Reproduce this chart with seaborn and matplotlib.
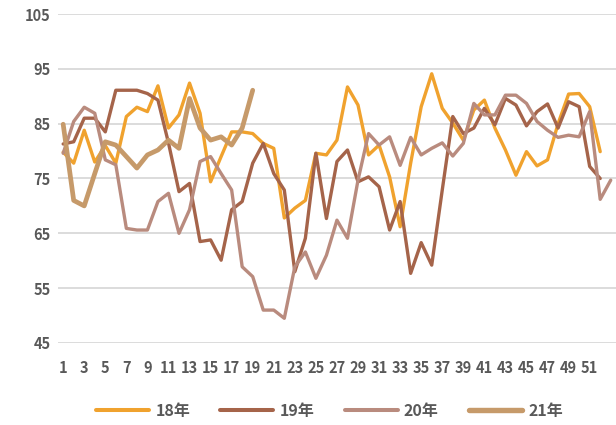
import matplotlib
matplotlib.use("Agg")
import matplotlib.pyplot as plt
import pandas as pd
import seaborn as sns

# weekly index values
y18 = [79.8, 77.8, 83.8, 78.0, 81.0, 77.8, 86.3, 88.0, 87.2, 91.9,
       84.2, 86.6, 92.4, 86.9, 74.4, 79.0, 83.5, 83.5, 83.2, 81.4,
       80.5, 67.8, 69.6, 71.0, 79.6, 79.3, 82.0, 91.7, 88.4, 79.3,
       81.1, 75.3, 66.2, 77.8, 88.1, 94.1, 87.8, 85.1, 82.0, 87.5,
       89.3, 84.2, 80.2, 75.6, 79.9, 77.3, 78.4, 85.0, 90.4, 90.5,
       88.1, 79.9]
y19 = [81.3, 81.7, 86.0, 86.0, 83.5, 91.1, 91.1, 91.1, 90.5, 89.3,
       81.5, 72.6, 74.1, 63.5, 63.8, 60.1, 69.3, 70.8, 77.8, 81.4,
       75.9, 72.9, 58.0, 64.1, 79.6, 67.7, 78.1, 80.2, 74.4, 75.3,
       73.5, 65.6, 70.8, 57.7, 63.3, 59.2, 72.9, 86.3, 83.2, 84.2,
       87.8, 84.8, 89.6, 88.4, 84.6, 87.2, 88.6, 84.2, 89.0, 88.1,
       77.2, 75.0]
y20 = [79.6, 85.4, 88.0, 86.9, 78.4, 77.5, 65.9, 65.6, 65.6, 70.8,
       72.3, 65.0, 69.3, 78.1, 79.0, 75.9, 72.9, 58.9, 57.1, 51.0,
       51.0, 49.5, 58.9, 61.6, 56.8, 61.0, 67.4, 64.1, 74.7, 83.2,
       81.1, 82.6, 77.4, 82.5, 79.3, 80.5, 81.5, 79.1, 81.4, 88.7,
       86.6, 86.6, 90.2, 90.2, 88.7, 85.4, 83.8, 82.5, 82.9, 82.6,
       87.2, 71.2, 74.7]
y21 = [84.9, 71.0, 70.0, 75.9, 81.7, 81.1, 79.0, 76.9, 79.3, 80.2,
       82.0, 80.5, 89.6, 84.2, 82.0, 82.6, 81.1, 84.2, 91.1]

series = ["18年", "19年", "20年", "21年"]
colors = ["#F0A22E", "#A5644A", "#B98B7E", "#C69A6A"]
widths = [2.4, 2.4, 2.4, 3.4]
yticks = [45, 55, 65, 75, 85, 95, 105]
xticks = list(range(1, 52, 2))

frames = []
for name, vals in zip(series, [y18, y19, y20, y21]):
    frames.append(pd.DataFrame({"week": range(1, len(vals) + 1), "value": vals, "year": name}))
df = pd.concat(frames, ignore_index=True)

sns.set_theme(style="white")
plt.rcParams["font.family"] = ["Liberation Sans Narrow", "Noto Sans CJK SC", "DejaVu Sans"]

fig = plt.figure(figsize=(6.16, 4.25), dpi=100)
ax = fig.add_axes([0.094, 0.193, 0.906, 0.774])

sns.lineplot(data=df, x="week", y="value", hue="year", palette=colors, ax=ax, legend=False)
for line, lw in zip(ax.get_lines(), widths):
    line.set_linewidth(lw)
    line.set_solid_joinstyle("round")
    line.set_solid_capstyle("round")

ax.set_xlim(0.5, 53.5)
ax.set_ylim(45, 105)
ax.set_yticks(yticks)
ax.set_xticks(xticks)
ax.set_xticklabels([str(t) for t in xticks])
ax.yaxis.grid(True, color="#D9D9D9", linewidth=1.3)
ax.set_axisbelow(True)
for s in ax.spines.values():
    s.set_visible(False)
ax.tick_params(axis="both", length=0, labelsize=10.5, labelcolor="#595959")
ax.tick_params(axis="y", pad=5)
ax.tick_params(axis="x", pad=12)
for lab in ax.get_xticklabels() + ax.get_yticklabels():
    lab.set_fontweight("bold")
ax.set_xlabel("")
ax.set_ylabel("")

handles = [plt.Line2D([], [], color=c, lw=lw + 0.5, solid_capstyle="round") for c, lw in zip(colors, widths)]
leg = fig.legend(handles, series, loc="center", bbox_to_anchor=(0.535, 0.033), ncol=4,
                 frameon=False, handlelength=3.3, columnspacing=1.9, handletextpad=0.4,
                 prop={"weight": "bold", "size": 11.5})
for t in leg.get_texts():
    t.set_color("#595959")

fig.savefig("out.png", dpi=100)
